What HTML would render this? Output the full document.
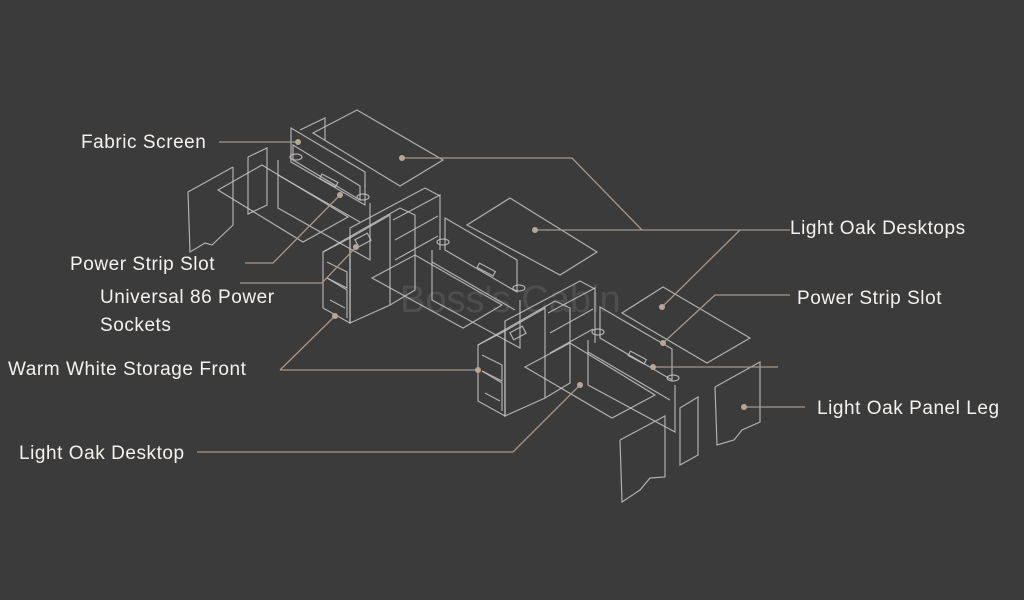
<!DOCTYPE html>
<html><head><meta charset="utf-8"><style>
html,body{margin:0;padding:0;background:#3c3b3b;}
svg{display:block}
text{font-family:"Liberation Sans",sans-serif;font-size:19px;letter-spacing:0.55px;fill:#f4f2ef;}
</style></head><body>
<svg width="1024" height="600" viewBox="0 0 1024 600">
<rect width="1024" height="600" fill="#3c3b3b"/>
<text x="400" y="312" style="font-size:38px;fill:#4f4e4e;letter-spacing:0">Boss's Cabin</text>
<g fill="none" stroke="#c4c4c4" stroke-width="1.2" stroke-opacity="0.85">
<polygon points="357,110 443,160 400,186 313,133"/>
<polygon points="510,198 597,252 560,275 467,225"/>
<polygon points="262,165 348,217 303,242 218,190"/>
<polygon points="663,287 750,338 707,363 622,313"/>
<polygon points="570,343 655,395 612,418 525,367"/>
<polygon points="415,255 502,305 463,328 372,278"/>
<polyline points="233,167 188,192 190,252 205,243 212,245 233,225 233,167"/>
<polyline points="248,157 267,148 267,205 248,214 248,157"/>
<polyline points="715,387 760,362 760,422 742,430 734,440 717,445 715,387"/>
<polygon points="680,408 698,397 698,455 680,465"/>
<polyline points="620,440 665,416 665,477 650,478 640,490 622,502 620,440"/>
<polygon points="291,128 365,172 365,205 291,162"/>
<polygon points="293,145 360,186 360,200 293,160"/>
<polyline points="278,160 278,208 370,260 370,203"/>
<polyline points="278,175 360,222"/>
<polyline points="300,130 325,118 325,140"/>
<ellipse cx="296" cy="157" rx="6" ry="3"/>
<ellipse cx="363" cy="197" rx="6" ry="3"/>
<rect x="320" y="178" width="18" height="5" transform="rotate(28 329 180)"/>
<polygon points="445,218 517,260 517,292 445,250"/>
<polyline points="432,250 432,300 520,348 520,300"/>
<polyline points="432,262 515,310"/>
<ellipse cx="443" cy="242" rx="6" ry="3"/>
<ellipse cx="519" cy="288" rx="6" ry="3"/>
<rect x="477" y="267" width="18" height="5" transform="rotate(28 486 270)"/>
<polygon points="600,307 672,349 672,380 600,338"/>
<polyline points="588,340 588,385 675,432 675,385"/>
<polyline points="588,352 670,400"/>
<ellipse cx="598" cy="332" rx="6" ry="3"/>
<ellipse cx="673" cy="378" rx="6" ry="3"/>
<rect x="628" y="355" width="18" height="5" transform="rotate(28 637 358)"/>
<g id="st">
<polygon points="323,252 350,238 350,323 323,308"/>
<polygon points="350,238 390,215 390,305 350,323"/>
<polyline points="323,252 400,208 415,215 415,290 390,305"/>
<polyline points="350,238 350,228 425,188 440,196"/>
<polyline points="327,262 347,272 347,288 327,278"/>
<polyline points="327,278 347,290 347,318"/>
<polyline points="393,220 440,195 440,250"/>
<polyline points="395,240 438,216"/>
<polyline points="395,260 438,236"/>
<rect x="356" y="236" width="14" height="8" transform="rotate(-28 363 240)"/>
<line x1="330" y1="300" x2="345" y2="308"/>
</g>
<use href="#st" transform="translate(155,93)"/>
</g>
<g fill="none" stroke="#a4968a" stroke-width="1.3">
<polyline points="219,142 298,142"/>
<polyline points="402,158 572,158 642,230"/>
<polyline points="535,230 790,230"/>
<polyline points="740,230 662,307"/>
<polyline points="245,263 273,263 340,195"/>
<polyline points="240,283 322,283 356,247"/>
<polyline points="280,370 478,370"/>
<polyline points="280,370 335,316"/>
<polyline points="197,452 513,452 580,385"/>
<polyline points="790,295 715,295 663,343"/>
<polyline points="653,367 778,367"/>
<polyline points="744,407 805,407"/>
</g>
<g fill="#b8a694">
<circle cx="298" cy="142" r="3"/><circle cx="402" cy="158" r="3"/><circle cx="535" cy="230" r="3"/>
<circle cx="662" cy="307" r="3"/><circle cx="340" cy="195" r="3"/><circle cx="356" cy="247" r="3"/>
<circle cx="478" cy="370" r="3"/><circle cx="335" cy="316" r="3"/><circle cx="580" cy="385" r="3"/>
<circle cx="663" cy="343" r="3"/><circle cx="653" cy="367" r="3"/><circle cx="744" cy="407" r="3"/>
</g>
<text x="81" y="148">Fabric Screen</text>
<text x="70" y="270">Power Strip Slot</text>
<text x="100" y="303">Universal 86 Power</text>
<text x="100" y="331">Sockets</text>
<text x="8" y="375">Warm White Storage Front</text>
<text x="19" y="459">Light Oak Desktop</text>
<text x="790" y="234">Light Oak Desktops</text>
<text x="797" y="304">Power Strip Slot</text>
<text x="817" y="414">Light Oak Panel Leg</text>
</svg>
</body></html>
